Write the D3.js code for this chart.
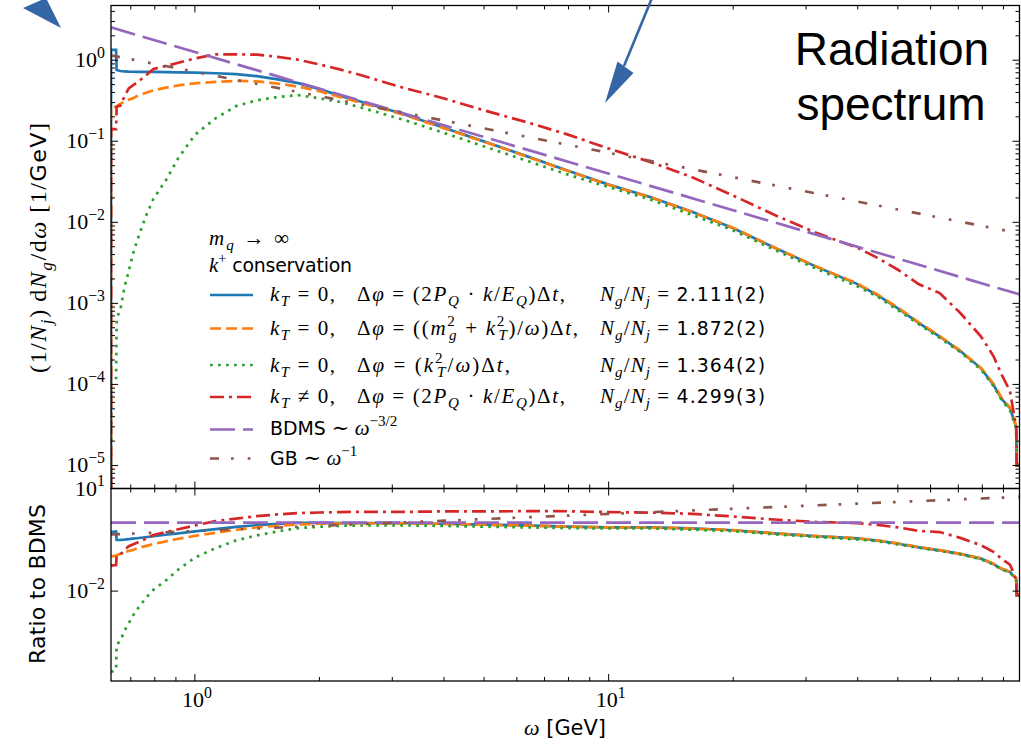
<!DOCTYPE html>
<html><head><meta charset="utf-8">
<script src="https://cdn.jsdelivr.net/npm/d3@7"></script>
<style>
body{margin:0;background:#fff;}
svg{display:block;background:#fff;}
text{white-space:pre;}
</style></head><body>
<svg id="c" width="1021" height="744"></svg>
<script>
// ---------------- data ----------------
const omega = [0.627,0.645,0.647,0.661,0.676,0.692,0.708,0.724,0.759,0.794,0.851,0.912,1.0,1.122,1.259,1.413,1.585,1.778,2.0,2.239,2.512,3.162,3.981,5.012,6.31,7.943,10,12.59,15.85,19.95,25.12,31.62,39.81,44.67,50.12,56.23,63.1,70.79,79.43,85.1,89.1,93.3,96.6,96.9,98.4];
const specKT0Boost = [1.34,1.34,0.757,0.735,0.726,0.722,0.72,0.718,0.717,0.716,0.713,0.709,0.703,0.69,0.672,0.635,0.58,0.522,0.44,0.366,0.31,0.22,0.148,0.099,0.066,0.0435,0.0292,0.0205,0.0136,0.0085,0.0049,0.00286,0.00174,0.00126,0.00086,0.00057,0.00039,0.000258,0.000158,0.000099,0.000066,0.000051,0.00003,0.00001,0.00001];
const specKT0Mass = [0.262,0.265,0.27,0.29,0.31,0.325,0.338,0.36,0.395,0.425,0.458,0.49,0.519,0.54,0.555,0.548,0.515,0.472,0.415,0.352,0.3,0.216,0.146,0.098,0.0655,0.0433,0.029,0.0204,0.0135,0.0086,0.0049,0.00288,0.00176,0.00128,0.00088,0.00058,0.000395,0.00026,0.00016,0.000102,0.000068,0.000052,0.000031,0.0000105,0.0000105];
const specKT0Form = [0.00011,0.00012,0.00065,0.00085,0.0016,0.0025,0.004,0.0058,0.0115,0.0195,0.033,0.062,0.12,0.192,0.272,0.32,0.352,0.37,0.339,0.306,0.262,0.187,0.128,0.086,0.058,0.039,0.0272,0.0192,0.0124,0.008,0.0046,0.0027,0.00163,0.00121,0.00082,0.00055,0.000375,0.00025,0.000152,0.000096,0.000064,0.000048,0.000029,0.00001,0.00001];
const specKTBoost = [0.141,0.141,0.267,0.275,0.36,0.45,0.49,0.528,0.64,0.78,0.848,0.93,1.05,1.18,1.18,1.17,1.1,1.013,0.886,0.77,0.658,0.463,0.34,0.24,0.173,0.1216,0.0813,0.0557,0.0364,0.0215,0.0124,0.00746,0.00489,0.00364,0.00258,0.00172,0.00134,0.00076,0.00039,0.000224,0.000132,0.000083,0.00003,0.00001,0.00001];
const bdmsOmega = [0.627, 98.4];
const bdmsVal = [2.54, 0.00129];
const gbOmega = [0.627, 98.4];
const gbVal = [1.148, 0.00732];
const nRatios = ["2.111(2)", "1.872(2)", "1.364(2)", "4.299(3)"];
const yTopExps = [0, -1, -2, -3, -4, -5];
const yBotExps = [1, -2];
const xExps = [0, 1];

// ---------------- setup ----------------
const SERIF = "'Liberation Serif','DejaVu Serif',serif";
const SANS = "'DejaVu Sans','Liberation Sans',sans-serif";
const L = 111, R = 1019.5, T1 = 5.5, B1 = 488.5, B2 = 681;
const svg = d3.select('#c');
const x = d3.scaleLog().domain([0.627, 98.4]).range([L, R]);
const yT = d3.scaleLog().domain([5.2e-6, 4.73]).range([B1, T1]);
const yB = d3.scaleLog().domain([2.35e-5, 10]).range([B2, B1]);

const defs = svg.append('defs');
defs.append('clipPath').attr('id','clipT').append('rect').attr('x',L).attr('y',T1).attr('width',R-L).attr('height',B1-T1);
defs.append('clipPath').attr('id','clipB').append('rect').attr('x',L).attr('y',B1).attr('width',R-L).attr('height',B2-B1);

function bdmsAt(w){
  const t = (Math.log(w)-Math.log(bdmsOmega[0]))/(Math.log(bdmsOmega[1])-Math.log(bdmsOmega[0]));
  return Math.exp(Math.log(bdmsVal[0]) + t*(Math.log(bdmsVal[1])-Math.log(bdmsVal[0])));
}

const series = [
  {vals: specKT0Boost, color:'#1f77b4', dash:null},
  {vals: specKT0Mass,  color:'#ff7f0e', dash:'11,5'},
  {vals: specKT0Form,  color:'#2ca02c', dash:'2.7,5.3'},
  {vals: specKTBoost,  color:'#d62728', dash:'14,5,3,5'}
];
const bdmsStyle = {color:'#9467bd', dash:'25,8'};
const gbStyle = {color:'#8c564b', dash:'9,12,2.7,14,2.7,14'};
const LW = 2.7;

function styl(p, s){
  p.attr('fill','none').attr('stroke', s.color).attr('stroke-width', LW).attr('stroke-linejoin','miter');
  if (s.dash) p.attr('stroke-dasharray', s.dash);
  return p;
}

// ---------------- top panel ----------------
const gT = svg.append('g').attr('clip-path','url(#clipT)');
const lineT = d3.line().x(d=>x(d.w)).y(d=>yT(d.v));
series.forEach(s=>{
  const data = [{w: omega[0], v: yT.domain()[0]}].concat(omega.map((w,i)=>({w, v:s.vals[i]})));
  styl(gT.append('path').attr('d', lineT(data)), s);
});
styl(gT.append('path').attr('d', lineT(bdmsOmega.map((w,i)=>({w, v:bdmsVal[i]})))), bdmsStyle);
styl(gT.append('path').attr('d', lineT(gbOmega.map((w,i)=>({w, v:gbVal[i]})))), gbStyle);

// ---------------- bottom panel ----------------
const gB = svg.append('g').attr('clip-path','url(#clipB)');
const lineB = d3.line().x(d=>x(d.w)).y(d=>yB(d.v));
series.forEach(s=>{
  const data = omega.map((w,i)=>({w, v: s.vals[i]/bdmsAt(w)}));
  styl(gB.append('path').attr('d', lineB(data)), s);
});
styl(gB.append('path').attr('d', lineB(bdmsOmega.map((w,i)=>({w, v:bdmsVal[i]/bdmsAt(w)})))), bdmsStyle);
styl(gB.append('path').attr('d', lineB(gbOmega.map((w,i)=>({w, v:gbVal[i]/bdmsAt(w)})))), gbStyle);

// ---------------- rich text helper ----------------
function rich(parent, px, py, parts, fs, opts={}){
  const t = parent.append('text').attr('x',px).attr('y',py).attr('font-size',fs).attr('fill','#000');
  if (opts.anchor) t.attr('text-anchor', opts.anchor);
  if (opts.rotate) t.attr('transform', `rotate(${opts.rotate},${px},${py})`);
  if (opts.len) t.attr('textLength', opts.len).attr('lengthAdjust','spacing');
  let shift = 0;
  parts.forEach(p=>{
    const [txt, st, pos, dx, sz] = p;
    const s = t.append('tspan').text(txt)
      .attr('font-family', st==='s' ? SANS : SERIF)
      .attr('font-style', st==='i' ? 'italic' : 'normal');
    let target = 0, size = fs*(sz||1);
    if (pos==='sub'){ target = 0.26*fs; size = 0.72*fs; }
    else if (pos==='sup'){ target = -0.42*fs; size = 0.72*fs; }
    s.attr('font-size', size);
    if (target !== shift){ s.attr('dy', target-shift); shift = target; }
    if (dx) s.attr('dx', dx);
  });
  return t;
}
function powLabel(e){ return [['10','r'],[(e<0?'\u2212':'')+Math.abs(e),'r','sup']]; }

// ---------------- axes ----------------
const ax = svg.append('g').attr('stroke','#000').attr('stroke-width',1);
function isMajor(t){ const l=Math.log10(t); return Math.abs(l-Math.round(l))<1e-9; }
x.ticks().forEach(t=>{
  const len = isMajor(t)?7:4;
  [[T1,1],[B1,-1],[B1,1],[B2,-1]].forEach(([yy,dir])=>{
    ax.append('line').attr('x1',x(t)).attr('x2',x(t)).attr('y1',yy).attr('y2',yy+dir*len);
  });
});
yT.ticks().forEach(t=>{
  const len = isMajor(t)?7:4;
  ax.append('line').attr('x1',L).attr('x2',L+len).attr('y1',yT(t)).attr('y2',yT(t));
  ax.append('line').attr('x1',R).attr('x2',R-len).attr('y1',yT(t)).attr('y2',yT(t));
});
yBotExps.forEach(e=>{
  const t = Math.pow(10,e);
  ax.append('line').attr('x1',L).attr('x2',L+7).attr('y1',yB(t)).attr('y2',yB(t));
  ax.append('line').attr('x1',R).attr('x2',R-7).attr('y1',yB(t)).attr('y2',yB(t));
});
svg.append('rect').attr('x',L).attr('y',T1).attr('width',R-L).attr('height',B1-T1).attr('fill','none').attr('stroke','#000').attr('stroke-width',1.3);
svg.append('rect').attr('x',L).attr('y',B1).attr('width',R-L).attr('height',B2-B1).attr('fill','none').attr('stroke','#000').attr('stroke-width',1.3);

// tick labels
const lab = svg.append('g');
yTopExps.forEach(e=>{ rich(lab, 105, yT(Math.pow(10,e))+7, powLabel(e), 22, {anchor:'end'}); });
yBotExps.forEach(e=>{ rich(lab, 105, yB(Math.pow(10,e))+7, powLabel(e), 22, {anchor:'end'}); });
xExps.forEach(e=>{ rich(lab, x(Math.pow(10,e))+2, 707, powLabel(e), 22, {anchor:'middle'}); });

// axis labels
rich(lab, 46, 248, [['(1/','r'],['N','i'],['j','i','sub'],[')\u2009d','r'],['N','i'],['g','i','sub'],['/d','r'],['\u03c9','i'],[' [1/','r'],['GeV','s',null,null,0.92],[']','r']], 24, {anchor:'middle', rotate:-90, len:250});
rich(lab, 45, 584, [['Ratio to BDMS','s']], 22, {anchor:'middle', rotate:-90, len:160});
rich(lab, 565, 735, [['\u03c9','i'],[' [GeV]','s',null,null,0.95]], 22, {anchor:'middle'});

// ---------------- legend ----------------
const lg = svg.append('g');
const FS = 21;
rich(lg, 209, 245, [['m','i'],['q','i','sub'],[' \u2192 \u221e','r']], FS, {len:80});
rich(lg, 209, 272, [['k','i'],['+','r','sup'],[' conservation','s',null,null,0.9]], FS, {len:143});
const supW = -0.36*FS;
const partA = [
  [['k','i'],['T','i','sub'],[' = 0,','r']],
  [['k','i'],['T','i','sub'],[' = 0,','r']],
  [['k','i'],['T','i','sub'],[' = 0,','r']],
  [['k','i'],['T','i','sub'],[' \u2260 0,','r']]
];
const partB = [
  [['\u0394','r'],['\u03c6','i'],[' = (2','r'],['P','i'],['Q','i','sub'],[' \u00b7 ','r'],['k','i'],['/','r'],['E','i'],['Q','i','sub'],[')\u0394','r'],['t','i'],[',','r']],
  [['\u0394','r'],['\u03c6','i'],[' = ((','r'],['m','i'],['2','r','sup'],['g','i','sub',supW],[' + ','r'],['k','i'],['2','r','sup'],['T','i','sub',supW],[')/','r'],['\u03c9','i'],[')\u0394','r'],['t','i'],[',','r']],
  [['\u0394','r'],['\u03c6','i'],[' = (','r'],['k','i'],['2','r','sup'],['T','i','sub',supW],['/','r'],['\u03c9','i'],[')\u0394','r'],['t','i'],[',','r']],
  [['\u0394','r'],['\u03c6','i'],[' = (2','r'],['P','i'],['Q','i','sub'],[' \u00b7 ','r'],['k','i'],['/','r'],['E','i'],['Q','i','sub'],[')\u0394','r'],['t','i'],[',','r']]
];
const lenB = [208, 221, 153, 208];
const rowHandleY = [295, 328.5, 365, 397, 429.5, 458.5];
const rowTextY = [301, 335, 372, 403, 435, 465];
series.forEach((s,i)=>{
  styl(lg.append('path').attr('d', `M210,${rowHandleY[i]}H253`), s);
  rich(lg, 270, rowTextY[i], partA[i], FS, {len:65});
  rich(lg, 357, rowTextY[i], partB[i], FS, {len:lenB[i]});
  rich(lg, 600, rowTextY[i], [['N','i'],['g','i','sub'],['/','r'],['N','i'],['j','i','sub'],[' = ','r'],[nRatios[i],'s',null,null,0.9]], FS, {len:165});
});
styl(lg.append('path').attr('d', `M210,${rowHandleY[4]}H253`), bdmsStyle);
rich(lg, 270, rowTextY[4], [['BDMS ','s',null,null,0.9],['\u223c ','r'],['\u03c9','i'],['\u22123/2','r','sup']], FS);
styl(lg.append('path').attr('d', `M210,${rowHandleY[5]}H253`), gbStyle);
rich(lg, 270, rowTextY[5], [['GB ','s',null,null,0.9],['\u223c ','r'],['\u03c9','i'],['\u22121','r','sup']], FS);

// ---------------- annotations ----------------
const an = svg.append('g');
an.append('text').attr('x',892).attr('y',65).attr('text-anchor','middle').attr('font-family',"'Liberation Sans',Arial,sans-serif").attr('font-size',46).text('Radiation');
an.append('text').attr('x',891).attr('y',120).attr('text-anchor','middle').attr('font-family',"'Liberation Sans',Arial,sans-serif").attr('font-size',46).text('spectrum');
const ARROW = '#3465a4';
an.append('line').attr('x1',652).attr('y1',-2).attr('x2',624).attr('y2',66).attr('stroke',ARROW).attr('stroke-width',2.6);
an.append('path').attr('d','M605,103L617.5,61.5L633.5,73Z').attr('fill',ARROW);
an.append('path').attr('d','M23,8L46,-2L61,28Z').attr('fill',ARROW);
</script>
</body></html>
